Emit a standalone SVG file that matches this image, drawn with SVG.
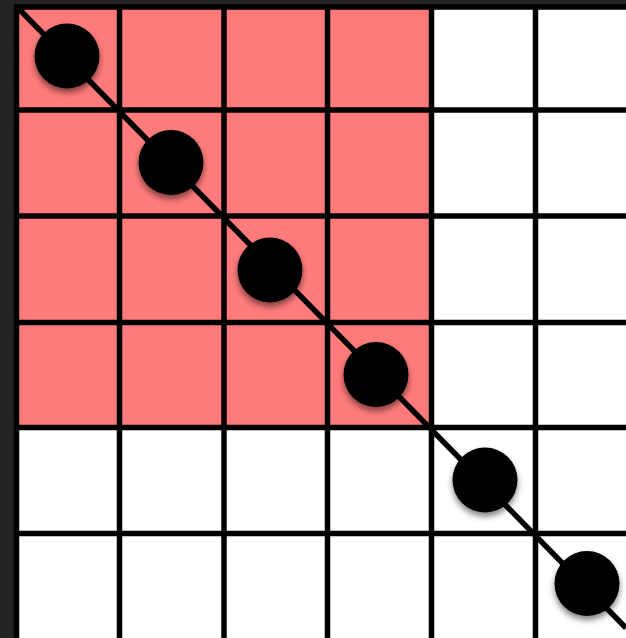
<svg xmlns="http://www.w3.org/2000/svg" width="626" height="638" viewBox="0 0 626 638">
  <defs>
    <filter id="shadow" x="-30%" y="-30%" width="160%" height="170%">
      <feGaussianBlur in="SourceAlpha" stdDeviation="3"/>
      <feOffset dx="0" dy="4" result="b"/>
      <feComponentTransfer><feFuncA type="linear" slope="0.5"/></feComponentTransfer>
      <feMerge><feMergeNode/><feMergeNode in="SourceGraphic"/></feMerge>
    </filter>
  </defs>
  <style>
    .grid line { stroke: #000; stroke-width: 5.5; }
    .diag { stroke: #000; stroke-width: 5.5; }
    .dot { fill: #000; filter: url(#shadow); }
  </style>
  <rect x="0" y="0" width="626" height="638" fill="#232326"/>
  <rect x="16.5" y="7" width="610" height="631" fill="#ffffff"/>
  <rect id="highlight" x="16.5" y="7" width="415" height="420.5" fill="#ff7b7b"/>
  <g class="grid" id="grid">
    <line x1="16.5" y1="4.5" x2="16.5" y2="638"/>
    <line x1="119.5" y1="4.5" x2="119.5" y2="638"/>
    <line x1="224" y1="4.5" x2="224" y2="638"/>
    <line x1="327.5" y1="4.5" x2="327.5" y2="638"/>
    <line x1="431.5" y1="4.5" x2="431.5" y2="638"/>
    <line x1="535.5" y1="4.5" x2="535.5" y2="638"/>
    <line x1="14" y1="7" x2="626" y2="7"/>
    <line x1="14" y1="110" x2="626" y2="110"/>
    <line x1="14" y1="216" x2="626" y2="216"/>
    <line x1="14" y1="322.5" x2="626" y2="322.5"/>
    <line x1="14" y1="427.5" x2="626" y2="427.5"/>
    <line x1="14" y1="533.5" x2="626" y2="533.5"/>
  </g>
  <g id="connectors">
    <line class="diag" x1="17" y1="7" x2="626" y2="628"/>
  </g>
  <g id="node1"><circle class="dot" cx="67" cy="56" r="32.5"/></g>
  <g id="node2"><circle class="dot" cx="171" cy="162.5" r="32.5"/></g>
  <g id="node3"><circle class="dot" cx="270" cy="270" r="32.5"/></g>
  <g id="node4"><circle class="dot" cx="376" cy="374.5" r="32.5"/></g>
  <g id="node5"><circle class="dot" cx="485" cy="480" r="32.5"/></g>
  <g id="node6"><circle class="dot" cx="587" cy="583.5" r="32.5"/></g>
</svg>
